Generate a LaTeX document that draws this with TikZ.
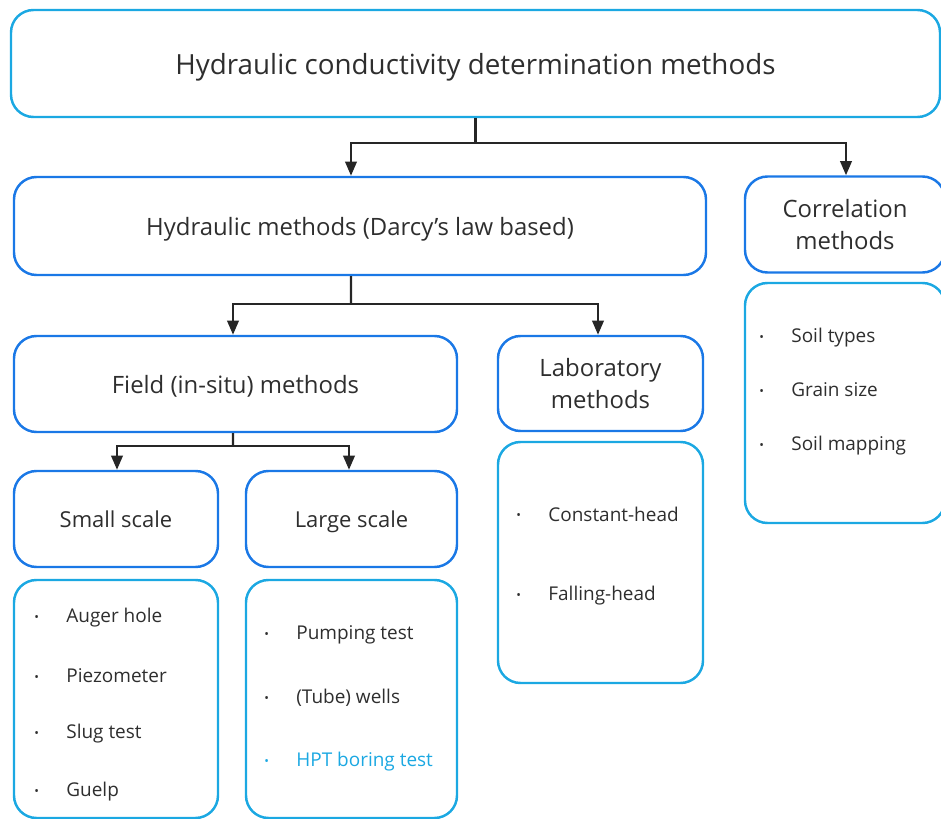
\documentclass[tikz,border=0pt]{standalone}
\usepackage{fontspec}
\setmainfont{Open Sans}
\usetikzlibrary{arrows.meta}

\definecolor{headblue}{HTML}{1A78E6}
\definecolor{listblue}{HTML}{1BA8E2}
\definecolor{txtgray}{HTML}{2E2E2E}

\tikzset{
  headbox/.style={draw=headblue, line width=1.4pt, rounded corners=0.45cm, text=txtgray, align=center, inner sep=0pt, text depth=0pt, font=\fontsize{13.6}{18}\selectfont},
  listbox/.style={draw=listblue, line width=1.4pt, rounded corners=0.45cm, inner sep=0pt},
  itm/.style={anchor=west, text=txtgray, inner sep=0pt, font=\fontsize{10.8}{12}\selectfont},
  link/.style={line width=1.3pt, draw=black!85},
  arr/.style={link, -{Triangle[length=8pt,width=6.5pt]}}
}
\newcommand{\bl}{\makebox[0.64cm][l]{\raisebox{0.15ex}{\scriptsize\textbullet}}}

\begin{document}
\begin{tikzpicture}
  \useasboundingbox (0,0) rectangle (18.82,-16.38);

  % Define nodes
  \node[headbox, draw=listblue, minimum width=18.58cm, minimum height=2.14cm, font=\fontsize{15.8}{18}\selectfont] (top) at (9.51,-1.27) {Hydraulic conductivity determination methods};
  \node[headbox, minimum width=13.84cm, minimum height=1.96cm] (hyd) at (7.2,-4.52) {Hydraulic methods (Darcy's law based)};
  \node[headbox, minimum width=4.0cm, minimum height=1.92cm] (corr) at (16.9,-4.49) {Correlation\\methods};
  \node[headbox, minimum width=8.86cm, minimum height=1.92cm] (field) at (4.71,-7.68) {Field (in-situ) methods};
  \node[headbox, minimum width=4.1cm, minimum height=1.9cm] (lab) at (12.01,-7.67) {Laboratory\\methods};
  \node[headbox, minimum width=4.08cm, minimum height=1.92cm, font=\fontsize{12.5}{18}\selectfont] (small) at (2.32,-10.38) {Small scale};
  \node[headbox, minimum width=4.22cm, minimum height=1.92cm, font=\fontsize{12.5}{18}\selectfont] (large) at (7.03,-10.38) {Large scale};

  \node[listbox, minimum width=4.0cm, minimum height=4.8cm] (corrlist) at (16.9,-8.06) {};
  \node[listbox, minimum width=4.1cm, minimum height=4.82cm] (lablist) at (12.01,-11.25) {};
  \node[listbox, minimum width=4.08cm, minimum height=4.76cm] (smalllist) at (2.32,-13.98) {};
  \node[listbox, minimum width=4.22cm, minimum height=4.76cm] (largelist) at (7.03,-13.98) {};

  % List entries
  \node[itm] (s1) at (0.68,-12.36) {\bl Auger hole};
  \node[itm] (s2) at (0.68,-13.52) {\bl Piezometer};
  \node[itm] (s3) at (0.68,-14.68) {\bl Slug test};
  \node[itm] (s4) at (0.68,-15.84) {\bl Guelp};

  \node[itm] (l1) at (5.28,-12.7) {\bl Pumping test};
  \node[itm] (l2) at (5.28,-13.96) {\bl (Tube) wells};
  \node[itm, text=listblue] (l3) at (5.28,-15.24) {\bl HPT boring test};

  \node[itm] (b1) at (10.32,-10.28) {\bl Constant-head};
  \node[itm] (b2) at (10.32,-11.92) {\bl Falling-head};

  \node[itm] (c1) at (15.18,-6.76) {\bl Soil types};
  \node[itm] (c2) at (15.18,-7.8) {\bl Grain size};
  \node[itm] (c3) at (15.18,-8.92) {\bl Soil mapping};

  % Junctions
  \coordinate (j1) at (9.51,-2.86);
  \coordinate (j2) at (7.02,-6.08);
  \coordinate (j3) at (4.66,-8.92);

  % Draw connectors
  \draw[link] (top.south) -- (j1);
  \draw[arr] (j1) -| ([xshift=-1.8mm]hyd.north);
  \draw[arr] (j1) -| ([xshift=0.2mm]corr.north);

  \draw[link] ([xshift=-1.8mm]hyd.south) -- (j2);
  \draw[arr] (j2) -| ([xshift=-0.5mm]field.north);
  \draw[arr] (j2) -| ([xshift=-0.5mm]lab.north);

  \draw[link] ([xshift=-0.5mm]field.south) -- (j3);
  \draw[arr] (j3) -| ([xshift=0.2mm]small.north);
  \draw[arr] (j3) -| ([xshift=-0.5mm]large.north);
\end{tikzpicture}
\end{document}
